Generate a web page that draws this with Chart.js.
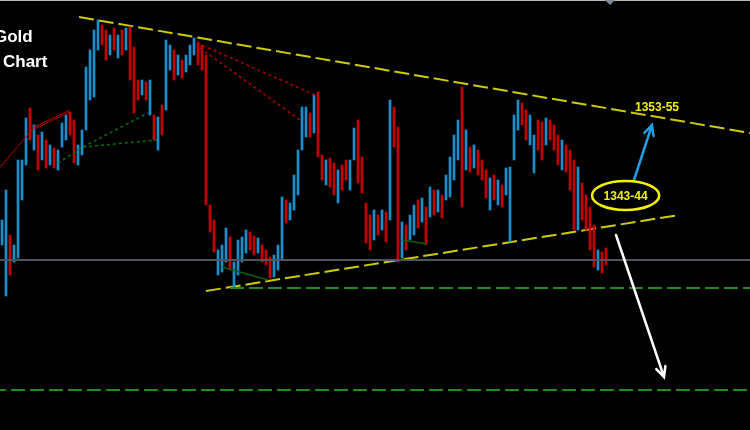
<!DOCTYPE html>
<html>
<head>
<meta charset="utf-8">
<script src="https://cdn.jsdelivr.net/npm/chart.js@4.4.1/dist/chart.umd.min.js"></script>
<style>
  html, body { margin: 0; padding: 0; background: #000; overflow: hidden; }
  canvas { display: block; }
</style>
</head>
<body>
<canvas id="chart" width="750" height="430"></canvas>
<script>
// candle highs / lows, one candle per x unit (x = index + 0.5)
const highs = [
  1344.0, 1347.0, 1342.5, 1341.5, 1350.0, 1350.0, 1354.2, 1355.2, 1353.5, 1352.5,
  1352.8, 1352.0, 1351.5, 1351.2, 1351.0, 1353.7, 1354.5, 1354.8, 1354.0, 1351.5,
  1353.0, 1359.3, 1361.0, 1363.0, 1364.0, 1363.5, 1363.0, 1362.5, 1363.2, 1362.5,
  1363.0, 1363.2, 1363.3, 1361.3, 1358.0, 1358.0, 1357.8, 1358.0, 1354.5, 1354.3,
  1355.5, 1362.0, 1361.5, 1361.0, 1360.5, 1360.0, 1360.5, 1361.5, 1362.2, 1361.8,
  1361.5, 1360.5, 1345.5, 1344.0, 1341.0, 1341.5, 1343.2, 1342.3, 1339.8, 1342.0,
  1342.3, 1343.0, 1342.8, 1342.4, 1342.2, 1341.5, 1341.0, 1340.3, 1340.5, 1341.5,
  1346.3, 1346.0, 1345.7, 1348.5, 1351.0, 1355.3, 1355.3, 1354.7, 1356.5, 1356.8,
  1350.5, 1350.0, 1350.2, 1349.7, 1349.0, 1349.5, 1350.0, 1350.0, 1353.2, 1354.0,
  1350.3, 1345.7, 1344.5, 1345.0, 1344.5, 1345.0, 1344.8, 1356.0, 1355.3, 1353.3,
  1343.8, 1343.5, 1344.5, 1345.5, 1346.0, 1346.2, 1345.3, 1347.3, 1347.0, 1347.0,
  1346.5, 1348.5, 1350.3, 1352.5, 1354.0, 1357.3, 1353.0, 1351.3, 1351.5, 1351.0,
  1350.0, 1349.0, 1348.2, 1348.5, 1348.0, 1347.5, 1349.2, 1349.3, 1354.5, 1356.0,
  1355.7, 1355.0, 1354.5, 1352.5, 1354.0, 1353.8, 1354.2, 1354.0, 1353.5, 1352.5,
  1352.0, 1351.5, 1351.0, 1350.0, 1349.3, 1347.7, 1346.5, 1345.3, 1343.5, 1341.0,
  1340.8, 1341.2
];
const lows = [
  1341.5, 1336.4, 1338.5, 1339.8, 1340.2, 1346.0, 1349.5, 1352.0, 1351.0, 1349.0,
  1350.0, 1349.2, 1349.5, 1349.2, 1349.0, 1351.3, 1352.0, 1352.5, 1349.7, 1349.5,
  1350.5, 1353.0, 1356.0, 1356.3, 1361.0, 1361.5, 1360.0, 1360.5, 1361.0, 1360.2,
  1360.5, 1361.0, 1358.0, 1354.7, 1356.0, 1356.5, 1356.0, 1354.5, 1352.0, 1351.0,
  1352.5, 1355.0, 1359.0, 1358.0, 1358.5, 1358.2, 1358.8, 1359.5, 1360.5, 1359.5,
  1359.0, 1345.5, 1342.8, 1340.8, 1338.5, 1338.8, 1339.8, 1339.0, 1337.3, 1338.5,
  1339.8, 1340.7, 1341.0, 1340.5, 1340.7, 1339.8, 1339.5, 1338.2, 1338.3, 1339.0,
  1340.0, 1343.7, 1344.0, 1345.0, 1346.5, 1351.0, 1352.3, 1352.3, 1352.7, 1350.3,
  1348.0, 1347.5, 1347.3, 1346.5, 1345.7, 1347.0, 1348.0, 1347.0, 1350.0, 1347.7,
  1346.7, 1341.7, 1341.0, 1342.0, 1342.5, 1343.0, 1341.8, 1344.0, 1351.3, 1339.8,
  1340.2, 1341.0, 1342.0, 1342.5, 1343.2, 1343.8, 1341.5, 1344.3, 1344.5, 1344.8,
  1344.2, 1346.0, 1346.3, 1348.0, 1350.0, 1345.3, 1349.0, 1348.8, 1349.2, 1348.5,
  1348.0, 1346.2, 1345.0, 1346.0, 1345.5, 1345.3, 1346.5, 1341.8, 1350.0, 1353.0,
  1353.5, 1352.0, 1351.5, 1348.7, 1351.0, 1350.0, 1351.5, 1352.0, 1351.0, 1349.5,
  1349.0, 1348.8, 1347.0, 1343.0, 1343.0, 1344.0, 1343.0, 1341.0, 1339.3, 1339.0,
  1338.7, 1339.5
];
// u = bullish (blue), d = bearish (red)
const dirs = ('uuduuuudud' + 'ududuuuddu' + 'uuuuuddudu' + 'dudddududu' + 'duududuuud' +
              'dddduuuduu' + 'uudduddduu' + 'uduuuuudud' + 'duddudduud' + 'dddudududd' +
              'uduudududu' + 'duuuududud' + 'ddududuuuu' + 'dduudduddd' + 'uddduddddudd').split('');

// drawn lines, in (bar, price)
const upperTrend = [{x: 19.75, y: 1364.3}, {x: 187.5, y: 1352.7}];
const lowerTrend = [{x: 51.5, y: 1336.9}, {x: 169.75, y: 1344.5}];
const lastPrice = 1340.0;
const supportLevels = [1337.2, 1327.0];
const supportStart = [57.5, -2];
const redLineA = [{x: 0, y: 1349.3}, {x: 8, y: 1353.0}, {x: 17.5, y: 1354.8}];
const redLineB = [{x: 8, y: 1353.2}, {x: 17.5, y: 1355.0}];
const redDotA = [{x: 49.25, y: 1361.7}, {x: 78.75, y: 1356.5}];
const redDotB = [{x: 50, y: 1361.2}, {x: 75, y: 1354.0}];
const greenDotA = [{x: 14.5, y: 1349.7}, {x: 20.75, y: 1351.3}, {x: 37, y: 1354.7}];
const greenDotB = [{x: 20.75, y: 1351.3}, {x: 39.25, y: 1352.0}];
const greenLineA = [{x: 55.5, y: 1339.3}, {x: 67, y: 1338.0}];
const greenLineB = [{x: 100.5, y: 1342.0}, {x: 106.75, y: 1341.6}];

// labels and arrows, in (bar, price)
const targetUp = {text: '1353-55', x: 164.25, y: 1355.2};
const targetMid = {text: '1343-44', x: 156.4, y: 1346.45, rx: 8.4, ry: 1.45};
const arrowUp = [{x: 158.5, y: 1348.0}, {x: 163, y: 1353.5}];
const arrowDown = [{x: 154, y: 1342.5}, {x: 166, y: 1328.3}];

const BLUE = '#1b8fcc';
const RED = '#c80000';

const candles = highs.map((h, i) => ({x: i + 0.5, y: [lows[i], h]}));
const lastX = 187.5;

function seg(data, color, width, dash) {
  return {
    type: 'line', data: data, borderColor: color, borderWidth: width,
    borderDash: dash || [], pointRadius: 0, fill: false, tension: 0
  };
}

const overlay = {
  id: 'overlay',
  afterDatasetsDraw(chart) {
    const ctx = chart.ctx;
    const sx = chart.scales.x, sy = chart.scales.y;
    const px = v => sx.getPixelForValue(v);
    const py = v => sy.getPixelForValue(v);

    function arrow(pts, color) {
      const x0 = px(pts[0].x), y0 = py(pts[0].y);
      const x1 = px(pts[1].x), y1 = py(pts[1].y);
      const a = Math.atan2(y1 - y0, x1 - x0);
      ctx.save();
      ctx.strokeStyle = color;
      ctx.lineWidth = 2.5;
      ctx.lineCap = 'round';
      ctx.beginPath();
      ctx.moveTo(x0, y0);
      ctx.lineTo(x1, y1);
      ctx.moveTo(x1 - 11 * Math.cos(a - 0.45), y1 - 11 * Math.sin(a - 0.45));
      ctx.lineTo(x1, y1);
      ctx.lineTo(x1 - 11 * Math.cos(a + 0.45), y1 - 11 * Math.sin(a + 0.45));
      ctx.stroke();
      ctx.restore();
    }

    arrow(arrowUp, '#1e9fe2');
    arrow(arrowDown, '#ffffff');

    ctx.save();
    // ellipse round the middle target
    const cx = px(targetMid.x), cy = py(targetMid.y);
    const rx = px(targetMid.x + targetMid.rx) - cx;
    const ry = cy - py(targetMid.y + targetMid.ry);
    ctx.strokeStyle = '#f2f200';
    ctx.lineWidth = 2.5;
    ctx.beginPath();
    ctx.ellipse(cx, cy, rx, ry, 0, 0, Math.PI * 2);
    ctx.stroke();

    ctx.fillStyle = '#f2f200';
    ctx.font = 'bold 12px "Liberation Sans", Arial, sans-serif';
    ctx.textAlign = 'center';
    ctx.textBaseline = 'middle';
    ctx.fillText(targetMid.text, cx, cy + 1);
    ctx.fillText(targetUp.text, px(targetUp.x), py(targetUp.y));

    // title, cut at the left edge as in the screenshot
    ctx.fillStyle = '#ffffff';
    ctx.font = 'bold 17px "Liberation Sans", Arial, sans-serif';
    ctx.textAlign = 'left';
    ctx.textBaseline = 'alphabetic';
    ctx.fillText('Gold', -6, 42);
    ctx.fillText('Chart', 3, 67);

    // window frame bits
    ctx.fillStyle = '#b4b8bc';
    ctx.fillRect(0, 0, chart.width, 1);
    ctx.fillStyle = '#7d8a99';
    ctx.beginPath();
    ctx.moveTo(605, 0);
    ctx.lineTo(615, 0);
    ctx.lineTo(610, 5);
    ctx.closePath();
    ctx.fill();
    ctx.restore();
  }
};

const bg = {
  id: 'bg',
  beforeDraw(chart) {
    const ctx = chart.ctx;
    ctx.save();
    ctx.fillStyle = '#000000';
    ctx.fillRect(0, 0, chart.width, chart.height);
    ctx.restore();
  }
};

new Chart(document.getElementById('chart'), {
  type: 'bar',
  data: {
    datasets: [
      seg([{x: 0, y: lastPrice}, {x: lastX, y: lastPrice}], '#50555c', 2),
      seg([{x: supportStart[0], y: supportLevels[0]}, {x: lastX, y: supportLevels[0]}], '#1f8b1f', 2, [14, 5]),
      seg([{x: supportStart[1], y: supportLevels[1]}, {x: lastX, y: supportLevels[1]}], '#1f8b1f', 2, [14, 5]),
      seg(redLineA, '#c00000', 1),
      seg(redLineB, '#c00000', 1),
      seg(redDotA, '#b00000', 1.5, [3, 3]),
      seg(redDotB, '#b00000', 1.5, [3, 3]),
      seg(greenDotA, '#0c6e0c', 1.5, [3, 3]),
      seg(greenDotB, '#0c6e0c', 1.5, [3, 3]),
      seg(greenLineA, '#0c5e0c', 1.5),
      seg(greenLineB, '#0c5e0c', 1.5),
      {
        type: 'bar',
        data: candles,
        backgroundColor: candles.map((c, i) => dirs[i] === 'u' ? BLUE : RED),
        borderWidth: 0,
        barThickness: 2
      },
      seg(upperTrend, '#cccc00', 2, [15, 5]),
      seg(lowerTrend, '#cccc00', 2, [15, 5])
    ]
  },
  options: {
    responsive: false,
    devicePixelRatio: 1,
    animation: false,
    layout: {padding: 0},
    plugins: {legend: {display: false}, tooltip: {enabled: false}},
    scales: {
      x: {type: 'linear', min: 0, max: lastX, offset: false, display: false},
      y: {type: 'linear', min: 1323, max: 1366, display: false}
    }
  },
  plugins: [bg, overlay]
});
</script>
</body>
</html>
